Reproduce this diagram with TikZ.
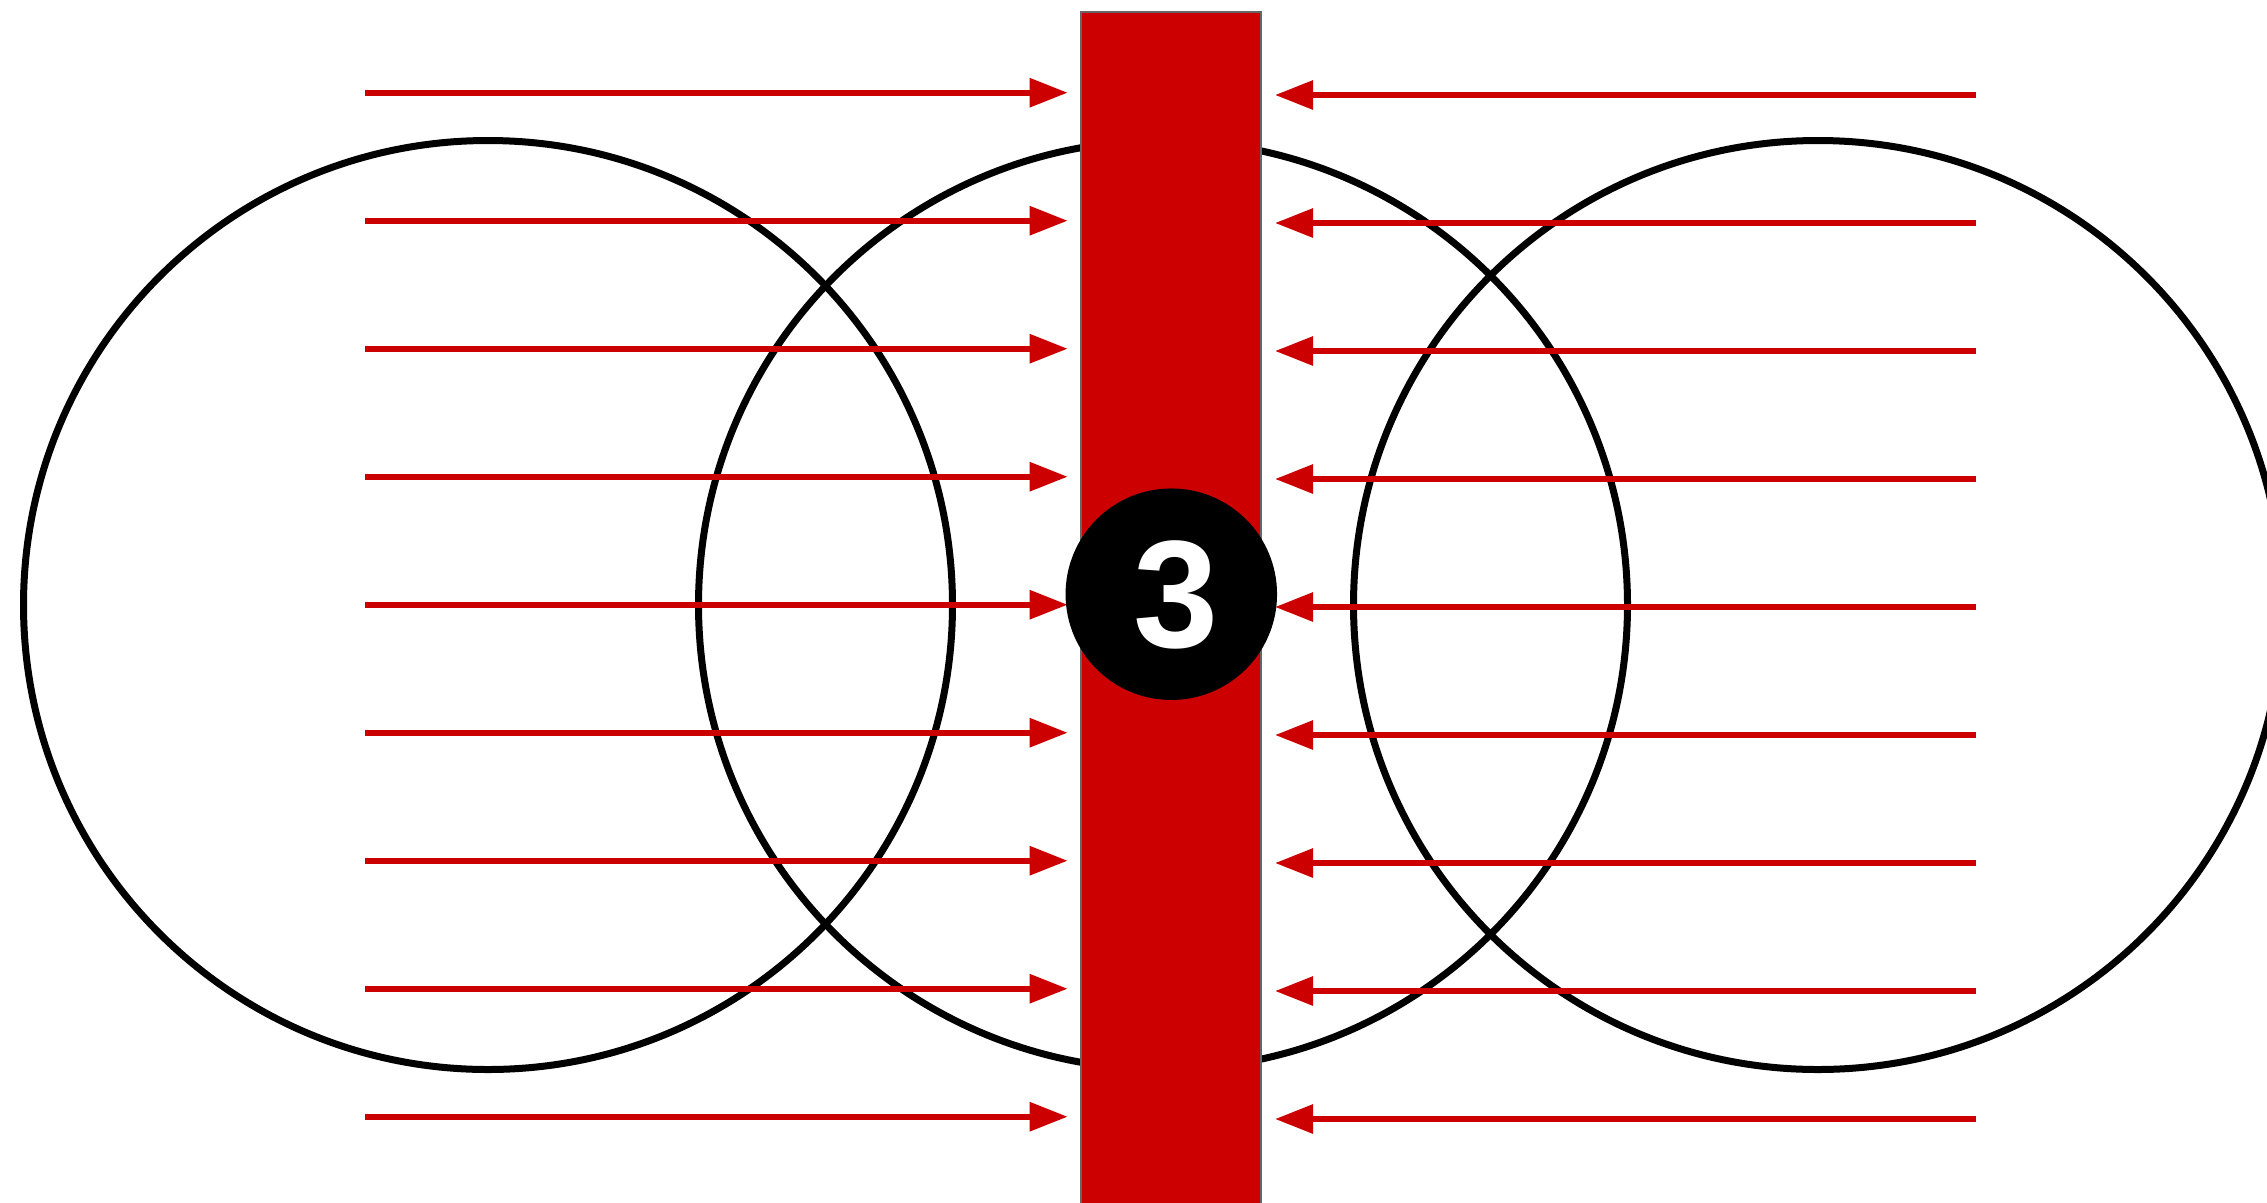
\documentclass[tikz,border=0pt]{standalone}
\usepackage{fontspec}
\usetikzlibrary{arrows.meta}
\newfontfamily\numfont{Liberation Sans}
\definecolor{barred}{HTML}{CC0000}
\definecolor{bargray}{HTML}{666666}
\begin{document}
\begin{tikzpicture}[x=1pt,y=-1pt,
  ring/.style={circle, draw=black, line width=7pt, minimum size=929pt, inner sep=0pt},
  flux/.style={draw=barred, line width=6pt, -{Triangle[length=38pt,width=28pt]}},
  badgestyle/.style={circle, fill=black, minimum size=211.5pt, inner sep=0pt},
  numstyle/.style={text=white, font=\numfont\bfseries\fontsize{153}{153}\selectfont, inner sep=0pt}]
\useasboundingbox (0,0) rectangle (2267,1202);
\clip (0,0) rectangle (2267,1202);
\node[ring] (c1) at (488,605) {};
\node[ring] (c2) at (1163,605) {};
\node[ring] (c3) at (1818,605) {};
\node[draw=bargray, fill=barred, line width=2pt, minimum width=180pt, minimum height=1220pt, inner sep=0pt, anchor=north] (bar) at (1171,10.5) {};
\foreach \i in {0,...,8} {
  \coordinate (ls\i) at (365, 92.7+128*\i);
  \coordinate (lt\i) at (1067.7, 92.7+128*\i);
  \coordinate (rs\i) at (1976, 95+128*\i);
  \coordinate (rt\i) at (1275, 95+128*\i);
  \draw[flux] (ls\i) -- (lt\i);
  \draw[flux] (rs\i) -- (rt\i);
}
\node[badgestyle] (badge) at (1171.3,594.2) {};
\node[numstyle] (num) at (1176,595) {3};
\end{tikzpicture}
\end{document}
